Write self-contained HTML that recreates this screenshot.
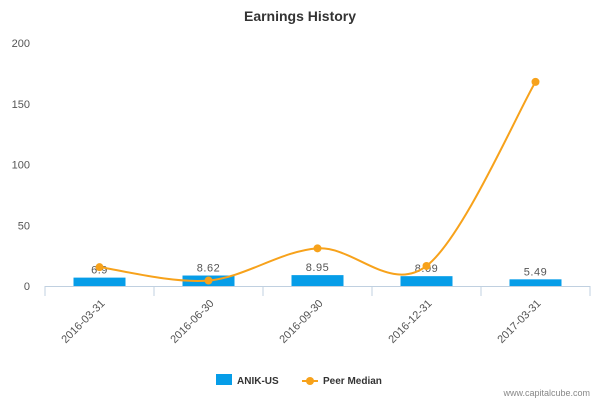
<!DOCTYPE html>
<html><head><meta charset="utf-8"><style>
body{margin:0;background:#fff;font-family:"Liberation Sans","DejaVu Sans",sans-serif}
</style></head><body>
<svg id="c" width="600" height="400" xmlns="http://www.w3.org/2000/svg">
<text x="300" y="21" text-anchor="middle" font-size="14" font-weight="bold" fill="#333">Earnings History</text>
<g id="grid"></g><g id="bars"></g><g id="line"></g>
<g>
<rect x="216" y="374" width="16" height="11" fill="#069de8"/>
<text x="237" y="384" font-size="10" font-weight="bold" fill="#333">ANIK-US</text>
<line x1="302" y1="381" x2="318" y2="381" stroke="#f7a21b" stroke-width="2"/>
<circle cx="310" cy="381" r="4" fill="#f7a21b"/>
<text x="323" y="384" font-size="10" font-weight="bold" fill="#333">Peer Median</text>
</g>
<text x="590" y="396" text-anchor="end" font-size="9" fill="#888">www.capitalcube.com</text>
</svg>
<script>
const categories=["2016-03-31","2016-06-30","2016-09-30","2016-12-31","2017-03-31"];
const anikValues=[6.9,8.62,8.95,8.09,5.49];
const anikLabels=["6.9","8.62","8.95","8.09","5.49"];
const peerValues=[15.5,4.5,31,16.5,168];
const yTicks=[0,50,100,150,200];
const NS="http://www.w3.org/2000/svg";
const x0=45,x1=590,yBase=286,yTop=43,yMax=200;
const bw=(x1-x0)/categories.length;
const xc=i=>x0+bw*(i+0.5);
const y=v=>yBase-(v/yMax)*(yBase-yTop);
function mk(t,a,p){const e=document.createElementNS(NS,t);for(const k in a)e.setAttribute(k,a[k]);p.appendChild(e);return e;}
const g=document.getElementById('grid'),b=document.getElementById('bars'),l=document.getElementById('line');
yTicks.forEach(v=>{const t=mk('text',{x:30,y:y(v)+4,'text-anchor':'end','font-size':11,fill:'#555'},g);t.textContent=v;

});
const ax=mk('line',{x1:x0,y1:yBase+0.5,x2:x1,y2:yBase+0.5,stroke:'#c0d0e0'},g);


for(let i=0;i<=categories.length;i++){const tk=mk('line',{x1:x0+bw*i,y1:yBase,x2:x0+bw*i,y2:yBase+10,stroke:'#c0d0e0'},g);

}
categories.forEach((c,i)=>{const t=mk('text',{x:xc(i)+6,y:yBase+18,'text-anchor':'end','font-size':11,fill:'#555',transform:`rotate(-45 ${xc(i)+6} ${yBase+18})`},g);t.textContent=c;

});
anikValues.forEach((v,i)=>{const r=mk('rect',{x:xc(i)-26,y:y(v),width:52,height:yBase-y(v),fill:'#069de8'},b);


const t=mk('text',{x:xc(i),y:y(v)-4,'text-anchor':'middle','font-size':11,fill:'#555','letter-spacing':'0.5'},b);t.textContent=anikLabels[i];

});
const pts=peerValues.map((v,i)=>[xc(i),y(v)]);
let d=`M${pts[0][0]},${pts[0][1]}`;
for(let i=0;i<pts.length-1;i++){const p0=pts[Math.max(0,i-1)],p1=pts[i],p2=pts[i+1],p3=pts[Math.min(pts.length-1,i+2)];const k=1/6;
d+=` C${p1[0]+(p2[0]-p0[0])*k},${p1[1]+(p2[1]-p0[1])*k} ${p2[0]-(p3[0]-p1[0])*k},${p2[1]-(p3[1]-p1[1])*k} ${p2[0]},${p2[1]}`;}
const path=mk('path',{d:d,fill:'none',stroke:'#f7a21b','stroke-width':2},l);


pts.forEach((p,i)=>{const c=mk('circle',{cx:p[0],cy:p[1],r:4,fill:'#f7a21b'},l);

});
</script>
</body></html>
